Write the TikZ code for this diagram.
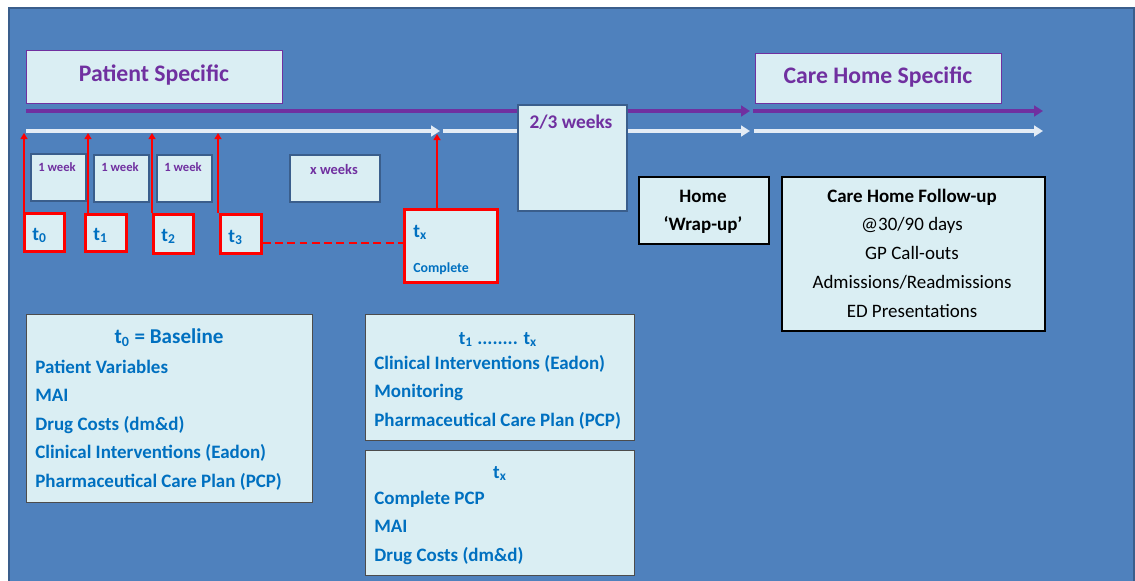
\documentclass[tikz,border=0pt]{standalone}
\usepackage{fontspec}
\setmainfont{Carlito}
\usetikzlibrary{arrows.meta}

\definecolor{slide}{HTML}{4F81BD}
\definecolor{slideedge}{HTML}{3A5E8C}
\definecolor{paper}{HTML}{DAEEF3}
\definecolor{plum}{HTML}{7030A0}
\definecolor{ink}{HTML}{0070C0}
\definecolor{chalk}{HTML}{E4ECF5}

\newcommand\pxu{0.02cm}

\begin{document}
\begin{tikzpicture}[x=0.02cm, y=-0.02cm,
    box/.style={anchor=north west, fill=paper, inner sep=0pt},
    titlebox/.style={box, draw=plum, line width=0.6pt},
    weekbox/.style={box, draw=slideedge, line width=0.9pt},
    tbox/.style={box, draw=red, line width=1.5pt},
    panel/.style={box, draw=black!70, line width=0.7pt},
    blackbox/.style={box, draw=black, line width=1.1pt},
    title/.style={anchor=base, inner sep=0pt, text=plum, font=\bfseries\fontsize{13.5}{16}\selectfont},
    weektext/.style={anchor=base, inner sep=0pt, text=plum, font=\bfseries\fontsize{7.2}{9}\selectfont},
    tlabel/.style={anchor=base west, inner sep=0pt, text=ink, font=\bfseries\fontsize{11}{13}\selectfont},
    head/.style={anchor=base, inner sep=0pt, text=ink, font=\bfseries\fontsize{12}{14}\selectfont},
    item/.style={anchor=base west, inner sep=0pt, text=ink, font=\bfseries\fontsize{10.8}{13}\selectfont},
    plain/.style={anchor=base, inner sep=0pt, font=\fontsize{10.8}{13}\selectfont},
    timeline/.style={line width=2pt, -{Triangle[length=5pt,width=6pt]}},
    tick/.style={red, line width=1.4pt, -{Triangle[length=3.5pt,width=4pt]}},
]
    \useasboundingbox (0,0) rectangle (1135,581);
    \draw[slideedge, fill=slide, line width=1.2pt] (9,8) rectangle (1134,600);%slide

    % timelines
    \coordinate (pa) at (26,111);  \coordinate (pb) at (750,111);
    \coordinate (pc) at (753,111); \coordinate (pd) at (1043,111);
    \coordinate (wa) at (26,131);  \coordinate (wb) at (440,131);
    \coordinate (wc) at (443,131); \coordinate (wd) at (750,131);
    \coordinate (we) at (754,131); \coordinate (wf) at (1043,131);
    \draw[timeline, plum] (pa) -- (pb);
    \draw[timeline, plum] (pc) -- (pd);
    \draw[timeline, chalk, line width=1.8pt] (wa) -- (wb);
    \draw[timeline, chalk, line width=1.8pt] (wc) -- (wd);
    \draw[timeline, chalk, line width=1.8pt] (we) -- (wf);

    % headings
    \node[titlebox, minimum width=256*\pxu, minimum height=53*\pxu] (patbox) at (26,50) {};
    \node[title] (pattext) at (154,82) {Patient Specific};
    \node[titlebox, minimum width=246*\pxu, minimum height=50*\pxu] (carebox) at (755,53) {};
    \node[title] (caretext) at (878,84) {Care Home Specific};

    \node[weekbox, minimum width=109*\pxu, minimum height=106*\pxu] (gap) at (517,104) {};
    \node[title, font=\bfseries\fontsize{11}{13}\selectfont] (gaptext) at (571,129) {2/3 weeks};

    % week boxes
    \node[weekbox, minimum width=55*\pxu, minimum height=47*\pxu] (wk1) at (30,153) {};
    \node[weekbox, minimum width=55*\pxu, minimum height=47*\pxu] (wk2) at (93,154) {};
    \node[weekbox, minimum width=55*\pxu, minimum height=47*\pxu] (wk3) at (156,154) {};
    \node[weekbox, minimum width=90*\pxu, minimum height=47*\pxu] (wkx) at (289,154) {};
    \node[weektext] (wk1t) at (57,171) {1 week};
    \node[weektext] (wk2t) at (120,171) {1 week};
    \node[weektext] (wk3t) at (183,171) {1 week};
    \node[weektext, font=\bfseries\fontsize{8.2}{10}\selectfont] (wkxt) at (334,174) {x weeks};

    % time points
    \node[tbox, minimum width=40*\pxu, minimum height=38*\pxu] (t0) at (23,212) {};
    \node[tbox, minimum width=41*\pxu, minimum height=37*\pxu] (t1) at (84,213) {};
    \node[tbox, minimum width=40*\pxu, minimum height=39*\pxu] (t2) at (152,213) {};
    \node[tbox, minimum width=41*\pxu, minimum height=39*\pxu] (t3) at (219,213) {};
    \node[tbox, minimum width=93*\pxu, minimum height=73*\pxu] (tx) at (403,208) {};
    \node[tlabel] (t0t) at (32,240) {t\textsubscript{0}};
    \node[tlabel] (t1t) at (93,240) {t\textsubscript{1}};
    \node[tlabel] (t2t) at (161,241) {t\textsubscript{2}};
    \node[tlabel] (t3t) at (228,242) {t\textsubscript{3}};
    \node[tlabel] (txt) at (413,237) {t\textsubscript{x}};
    \node[tlabel, font=\bfseries\fontsize{7.9}{9}\selectfont] (txdone) at (413,272) {Complete};

    \coordinate (k0) at (24,133);  \coordinate (k1) at (88,133);
    \coordinate (k2) at (152,133); \coordinate (k3) at (218,133);
    \coordinate (kx) at (437,134); \coordinate (dsh) at (0,243);
    \draw[tick] (t0.north west -| k0) -- (k0);
    \draw[tick] (t1.north west -| k1) -- (k1);
    \draw[tick] (t2.north west -| k2) -- (k2);
    \draw[tick] (t3.north west -| k3) -- (k3);
    \draw[tick] (tx.north west -| kx) -- (kx);
    \draw[red, line width=1.2pt, dash pattern=on 4.5pt off 2.5pt] (t3.east |- dsh) -- (tx.west |- dsh);

    % home and follow-up
    \node[blackbox, minimum width=130*\pxu, minimum height=67*\pxu] (home) at (638,176) {};
    \node[plain, font=\bfseries\fontsize{10.8}{13}\selectfont] (homea) at (703,202) {Home};
    \node[plain, font=\bfseries\fontsize{10.8}{13}\selectfont] (homeb) at (703,230) {`Wrap-up'};
    \node[blackbox, minimum width=263*\pxu, minimum height=154*\pxu] (follow) at (781,176) {};
    \node[plain, font=\bfseries\fontsize{10.8}{13}\selectfont] (fol0) at (912,202) {Care Home Follow-up};
    \foreach \txt [count=\i] in {@30/90 days, GP Call-outs, Admissions/Readmissions, ED Presentations}
        \node[plain] (fol\i) at (912,202+28.75*\i) {\txt};

    % measures
    \node[panel, minimum width=286*\pxu, minimum height=188*\pxu] (base) at (26,314) {};
    \node[head] (basehead) at (169,343) {t\textsubscript{0} = Baseline};
    \foreach \txt [count=\i from 0] in {Patient Variables, MAI, Drug Costs (dm\&d), Clinical Interventions (Eadon), Pharmaceutical Care Plan (PCP)}
        \node[item] (base\i) at (35,373+28.6*\i) {\txt};

    \node[panel, minimum width=269*\pxu, minimum height=126*\pxu] (during) at (365,314) {};
    \node[head, font=\bfseries\fontsize{10.8}{13}\selectfont] (duringhead) at (498,344) {t\textsubscript{1} ........ t\textsubscript{x}};
    \foreach \txt [count=\i from 0] in {Clinical Interventions (Eadon), Monitoring, Pharmaceutical Care Plan (PCP)}
        \node[item] (during\i) at (374,369+28.5*\i) {\txt};

    \node[panel, minimum width=269*\pxu, minimum height=125*\pxu] (final) at (365,450) {};
    \node[head, font=\bfseries\fontsize{10.8}{13}\selectfont] (finalhead) at (500,478) {t\textsubscript{x}};
    \foreach \txt [count=\i from 0] in {Complete PCP, MAI, Drug Costs (dm\&d)}
        \node[item] (final\i) at (374,504+28.5*\i) {\txt};
\end{tikzpicture}
\end{document}
